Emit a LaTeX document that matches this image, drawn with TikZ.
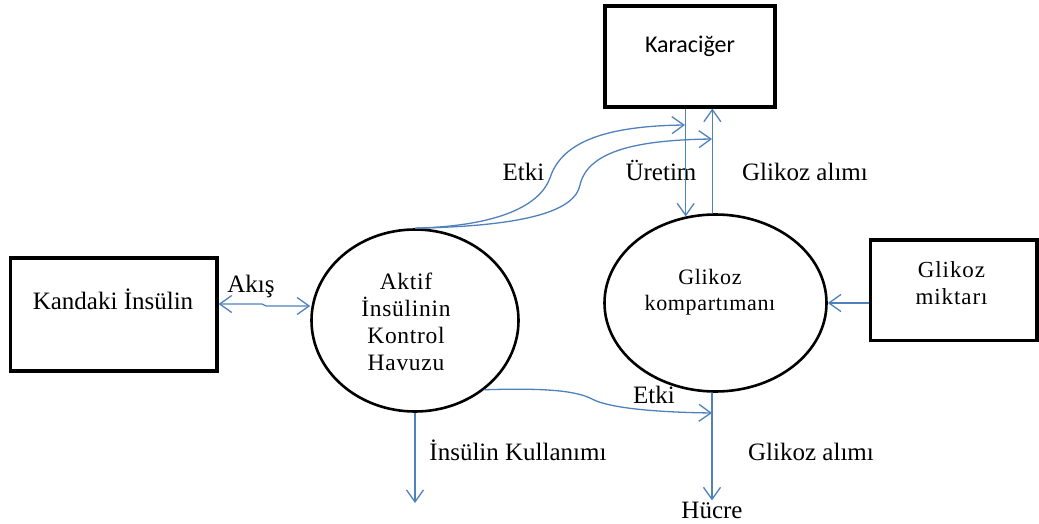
\documentclass[tikz,border=0pt]{standalone}
\usepackage{fontspec}
\setmainfont{Liberation Serif}
\newfontfamily\boxsans{Carlito}
\newfontfamily\poolserif[LetterSpace=3]{Liberation Serif}
\newfontfamily\glikserif[LetterSpace=3]{Liberation Serif}
\newfontfamily\mikserif[LetterSpace=4]{Liberation Serif}
\usetikzlibrary{arrows.meta,shapes.geometric}
\definecolor{flow}{HTML}{4F81BD}

\begin{document}
\begin{tikzpicture}[x=1pt,y=-1pt,
  >={Straight Barb[length=12pt,width=17pt]},
  box/.style={draw=black, line width=3.2pt, rectangle, inner sep=0pt},
  pool/.style={draw=black, line width=2.6pt, ellipse, inner sep=0pt},
  flowline/.style={draw=flow, line width=1.3pt},
  lbl/.style={anchor=base, inner sep=0pt, font=\fontsize{25}{25}\selectfont},
  txt/.style={inner sep=0pt, align=center}
]
\useasboundingbox (0,0) rectangle (1039,524);

% boxes
\node[box, minimum width=170pt, minimum height=101pt] (kar) at (690,56.5) {};
\node[box, minimum width=206.5pt, minimum height=113pt] (kan) at (113.75,314.5) {};
\node[box, minimum width=166.5pt, minimum height=100.5pt] (mik) at (953.75,290.25) {};

% compartments
\node[pool, minimum width=207pt, minimum height=182pt] (aktif) at (415,320.5) {};
\node[pool, minimum width=222pt, minimum height=177pt] (glik) at (715.5,303) {};

% texts inside the shapes
\node[anchor=base, inner sep=0pt, font=\boxsans\fontsize{24}{24}\selectfont] (karT) at (690,53) {Karaciğer};
\node[anchor=base, inner sep=0pt, font=\fontsize{25}{25}\selectfont] (kanT) at (113,309) {Kandaki İnsülin};
\node[txt, font=\poolserif\fontsize{23.5}{27}\selectfont] (aktifT) at (406,322) {Aktif\\İnsülinin\\Kontrol\\Havuzu};
\node[txt, font=\glikserif\fontsize{22}{26}\selectfont] (glikT) at (710,292) {Glikoz\\kompartımanı};
\node[txt, font=\mikserif\fontsize{23}{27}\selectfont] (mikT) at (951.5,283) {Glikoz\\miktarı};

% labels
\node[lbl] (akis) at (251,292) {Akış};
\node[lbl] (etki1) at (523.5,181) {Etki};
\node[lbl] (uretim) at (661,180) {Üretim};
\node[lbl] (alim1) at (805,180) {Glikoz alımı};
\node[lbl] (etki2) at (654,403) {Etki};
\node[lbl] (kullanim) at (518,460) {İnsülin Kullanımı};
\node[lbl] (alim2) at (811,460) {Glikoz alımı};
\node[lbl, inner sep=1pt] (hucre) at (712,518) {Hücre};

% free ends of connectors
\coordinate (e1) at (685,125);
\coordinate (e2) at (712,139);
\coordinate (e3) at (712,413);
\coordinate (use) at (415,503);
\coordinate (akisL) at (0,304);
\coordinate (akisR) at (0,306);

% blood insulin <-> active pool
\draw[flowline, <->] (kan.east |- akisL) -- (262,304) -- (266,306) -- (aktif.west |- akisR);

% glucose amount -> glucose compartment
\draw[flowline, ->] (mik.west |- glik.east) -- (glik.east);

% liver production and uptake
\draw[flowline, ->] (kar.south -| glik.109) -- (glik.109);
\draw[flowline, ->] (glik.92) -- (kar.south -| glik.92);

% insulin effect on the liver
\draw[flowline, ->] (aktif.north) .. controls (500,226) and (540,205) .. (550,178)
  .. controls (562,140) and (610,126) .. (e1);
\draw[flowline, ->] (aktif.north) .. controls (530,226) and (575,210) .. (580,185)
  .. controls (588,150) and (640,140) .. (e2);

% insulin effect on the cells
\draw[flowline, ->] (aktif.-45) .. controls (540,388) and (575,390) .. (592,399)
  .. controls (605,406) and (640,412) .. (e3);

% glucose uptake by the cells
\draw[flowline, ->] (glik.south -| hucre) -- (hucre.north);

% insulin use
\draw[flowline, ->] (aktif.south) -- (use);
\end{tikzpicture}
\end{document}
